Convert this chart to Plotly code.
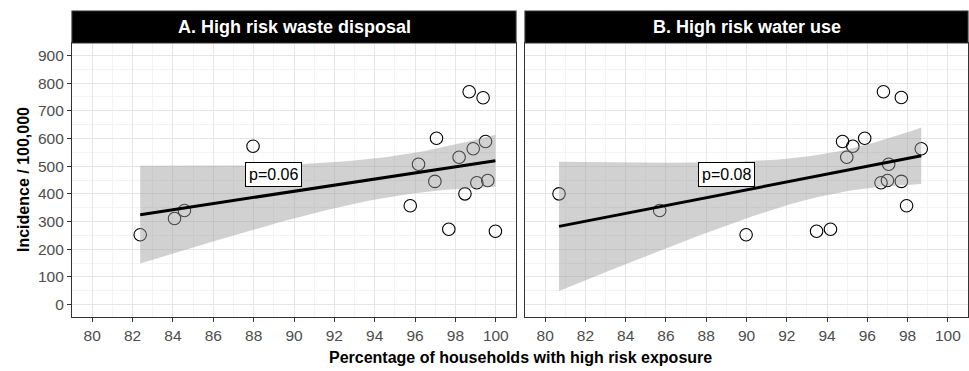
import numpy as np
import plotly.graph_objects as go

# Panel A: high risk waste disposal
waste_x = [82.38, 84.08, 84.57, 87.97, 95.76, 96.17, 96.98, 97.06, 97.67,
           98.18, 98.47, 98.68, 98.88, 99.06, 99.37, 99.49, 99.60, 99.98]
waste_y = [252, 311, 340, 572, 357, 507, 445, 601, 272,
           532, 400, 769, 563, 440, 747, 589, 448, 265]

# Panel B: high risk water use
water_x = [80.69, 85.69, 89.98, 93.48, 94.17, 94.77, 94.98, 95.28, 95.87,
           96.68, 96.80, 97.00, 97.06, 97.69, 97.69, 97.95, 98.68]
water_y = [400, 340, 252, 265, 272, 589, 532, 572, 601,
           440, 769, 448, 507, 748, 445, 357, 563]

panel_titles = ["A. High risk waste disposal", "B. High risk water use"]
p_labels = ["p=0.06", "p=0.08"]
x_ticks = list(range(80, 101, 2))
y_ticks = list(range(0, 901, 100))

# t quantiles (0.975) for df = n-2
t_crit = {16: 2.1199, 15: 2.1314}


def lm_fit(x, y):
    x = np.asarray(x, float)
    y = np.asarray(y, float)
    n = len(x)
    b1, b0 = np.polyfit(x, y, 1)
    resid = y - (b0 + b1 * x)
    s = np.sqrt(np.sum(resid ** 2) / (n - 2))
    xm = x.mean()
    sxx = np.sum((x - xm) ** 2)
    xs = np.linspace(x.min(), x.max(), 80)
    fit = b0 + b1 * xs
    se = s * np.sqrt(1 / n + (xs - xm) ** 2 / sxx)
    t = t_crit[n - 2]
    return xs, fit, fit - t * se, fit + t * se


FONT = "Liberation Sans, Arial, sans-serif"

fig = go.Figure()
datasets = [(waste_x, waste_y), (water_x, water_y)]
for i, (xv, yv) in enumerate(datasets):
    xa = "x" if i == 0 else "x2"
    ya = "y" if i == 0 else "y2"
    xs, fit, lo, hi = lm_fit(xv, yv)
    fig.add_trace(go.Scatter(x=xv, y=yv, mode="markers", xaxis=xa, yaxis=ya,
                             marker=dict(symbol="circle-open", size=12.5, color="black",
                                         line=dict(width=1.1, color="black")),
                             showlegend=False, hoverinfo="skip"))
    fig.add_trace(go.Scatter(x=np.concatenate([xs, xs[::-1]]),
                             y=np.concatenate([hi, lo[::-1]]),
                             fill="toself", fillcolor="rgba(153,153,153,0.45)",
                             line=dict(width=0), mode="lines", xaxis=xa, yaxis=ya,
                             showlegend=False, hoverinfo="skip"))
    fig.add_trace(go.Scatter(x=xs, y=fit, mode="lines", xaxis=xa, yaxis=ya,
                             line=dict(color="black", width=3),
                             showlegend=False, hoverinfo="skip"))
    fig.add_annotation(x=89, y=470, xref=xa, yref=ya, text=p_labels[i],
                       showarrow=False, font=dict(size=16, color="black", family=FONT),
                       bgcolor="white", bordercolor="black", borderwidth=1,
                       borderpad=3)

L, R, T, B = 72, 1, 11, 54
W, H = 969, 371
pw = W - L - R
ph = H - T - B
xdomA = [0, (516 - L) / pw]
xdomB = [(525 - L) / pw, 1]
ydom_top = 1 - (43 - T) / ph

axis_common = dict(showline=True, mirror=True, linecolor="#333333", linewidth=1.2,
                   ticks="outside", ticklen=4, tickcolor="#333333", tickwidth=1,
                   gridcolor="#E6E6E6", gridwidth=1, zeroline=False,
                   tickfont=dict(size=15.5, color="#4D4D4D", family=FONT))

minor_x = dict(dtick=1, showgrid=True, gridcolor="#F3F3F3", gridwidth=0.6, ticks="")
minor_y = dict(dtick=50, showgrid=True, gridcolor="#F3F3F3", gridwidth=0.6, ticks="")

fig.update_layout(
    width=W, height=H,
    margin=dict(l=L, r=R, t=T, b=B),
    paper_bgcolor="white", plot_bgcolor="white",
    font=dict(family=FONT, color="black"),
    xaxis=dict(domain=xdomA, range=[79, 101], tickvals=x_ticks, minor=minor_x,
               anchor="y", **axis_common),
    xaxis2=dict(domain=xdomB, range=[79, 101], tickvals=x_ticks, minor=minor_x,
                anchor="y2", **axis_common),
    yaxis=dict(domain=[0, ydom_top], range=[-45, 945], tickvals=y_ticks, minor=minor_y,
               anchor="x", **axis_common),
    yaxis2=dict(domain=[0, ydom_top], range=[-45, 945], tickvals=y_ticks, minor=minor_y,
                anchor="x2", showticklabels=False, ticklen=0,
                **{k: v for k, v in axis_common.items() if k not in ("ticklen",)}),
)

# strips
for dom, title in zip([xdomA, xdomB], panel_titles):
    fig.add_shape(type="rect", xref="paper", yref="paper",
                  x0=dom[0], x1=dom[1], y0=ydom_top, y1=1,
                  fillcolor="black", line=dict(color="#333333", width=1.2))
    fig.add_annotation(xref="paper", yref="paper", x=(dom[0] + dom[1]) / 2,
                       y=(ydom_top + 1) / 2, text="<b>" + title + "</b>",
                       showarrow=False, font=dict(size=18, color="white"),
                       xanchor="center", yanchor="middle")

# axis titles
fig.add_annotation(xref="paper", yref="paper", x=0.5 * (xdomA[0] + xdomB[1]),
                   y=-40 / ph, text="<b>Percentage of households with high risk exposure</b>",
                   showarrow=False, font=dict(size=16, color="black"),
                   xanchor="center", yanchor="middle")
fig.add_annotation(xref="paper", yref="paper", x=-(72 - 23) / pw, y=(ydom_top) / 2,
                   text="<b>Incidence / 100,000</b>", textangle=-90,
                   showarrow=False, font=dict(size=16, color="black"),
                   xanchor="center", yanchor="middle")

fig.write_html("out.html", config={"displayModeBar": False},
               post_script="document.body.style.margin='0px';document.body.style.overflow='hidden';")
